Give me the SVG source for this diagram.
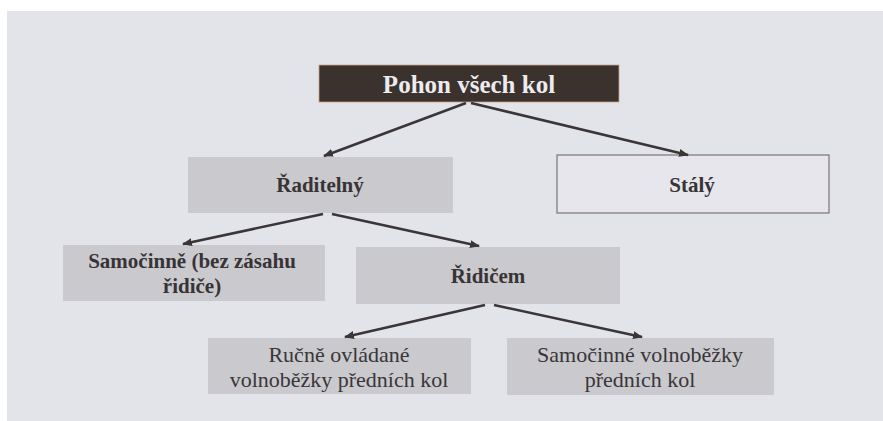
<svg xmlns="http://www.w3.org/2000/svg" width="883" height="421" viewBox="0 0 883 421">
<defs>
<marker id="ah" viewBox="0 0 10 8" refX="9" refY="4" markerWidth="10" markerHeight="8" markerUnits="userSpaceOnUse" orient="auto">
<path d="M0,0 L10,4 L0,8 Z" fill="#3a3536"/>
</marker>
</defs>
<style>
.bg{fill:#e3e3ea}
.box{fill:#c9c9ce}
.tb{font-family:"Liberation Serif","Times New Roman",serif;font-weight:bold;font-size:21px;fill:#383436;text-anchor:middle}
.tr{font-family:"Liberation Serif","Times New Roman",serif;font-size:22px;fill:#3a3638;text-anchor:middle}
.conn line{stroke:#3a3536;stroke-width:2.5;marker-end:url(#ah)}
</style>
<rect x="0" y="0" width="883" height="421" fill="#ffffff"/>
<rect class="bg" x="7" y="11" width="876" height="410"/>
<g id="pohon">
<rect x="319" y="65" width="300" height="37" fill="#3b322e" stroke="#c9a48a" stroke-width="0.8"/>
<text x="469" y="93" font-family="Liberation Serif, Times New Roman, serif" font-weight="bold" font-size="25" fill="#ecebef" text-anchor="middle">Pohon všech kol</text>
</g>
<g id="raditelny">
<rect class="box" x="188" y="157" width="265" height="56"/>
<text class="tb" x="320" y="192">Řaditelný</text>
</g>
<g id="staly">
<rect x="557" y="155" width="272" height="58" fill="#e6e6ec" stroke="#7a7576" stroke-width="1.2"/>
<text class="tb" x="692" y="192">Stálý</text>
</g>
<g id="samocinne">
<rect class="box" x="63" y="245" width="262" height="56"/>
<text class="tb" x="192" y="268">Samočinně (bez zásahu</text>
<text class="tb" x="192" y="293">řidiče)</text>
</g>
<g id="ridicem">
<rect class="box" x="356" y="247" width="264" height="57"/>
<text class="tb" x="488" y="283">Řidičem</text>
</g>
<g id="rucne">
<rect class="box" x="208" y="338" width="263" height="56"/>
<text class="tr" x="339" y="362">Ručně ovládané</text>
<text class="tr" x="339" y="387">volnoběžky předních kol</text>
</g>
<g id="samocinne-volnobezky">
<rect class="box" x="507" y="338" width="267" height="57"/>
<text class="tr" x="640" y="362">Samočinné volnoběžky</text>
<text class="tr" x="640" y="387">předních kol</text>
</g>
<g id="connectors" class="conn">
<line x1="466" y1="103" x2="324" y2="156"/>
<line x1="471" y1="103" x2="688" y2="155"/>
<line x1="323" y1="214" x2="183" y2="244"/>
<line x1="332" y1="214" x2="479" y2="246"/>
<line x1="485" y1="305" x2="345" y2="337"/>
<line x1="494" y1="305" x2="642" y2="337"/>
</g>
</svg>
